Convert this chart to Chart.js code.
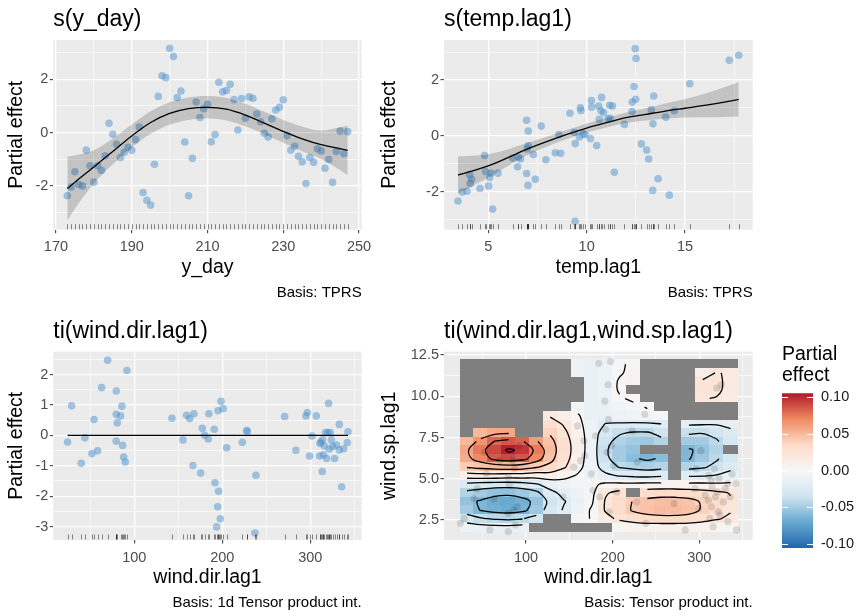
<!DOCTYPE html>
<html><head><meta charset="utf-8">
<style>
html,body{margin:0;padding:0;background:#fff;}
body{width:860px;height:616px;position:relative;overflow:hidden;}
canvas{position:absolute;}
</style>
<script src="https://cdn.jsdelivr.net/npm/chart.js@4.4.0/dist/chart.umd.min.js"></script>
</head><body>
<canvas id="c1" width="430" height="308" style="left:0;top:0"></canvas>
<canvas id="c2" width="430" height="308" style="left:375px;top:0"></canvas>
<canvas id="c3" width="430" height="308" style="left:0;top:308px"></canvas>
<canvas id="c4" width="400" height="308" style="left:375px;top:308px"></canvas>
<canvas id="c5" width="90" height="240" style="left:770px;top:330px"></canvas>
<script>
// ---------------- DATA ----------------
// s(y_day)
const yDay = [173,174,175,176,177,178,179,180,181,182,183,184,185,186,187,188,189,190,191,192,193,194,195,196,197,198,199,200,201,202,203,204,205,206,207,208,209,210,211,212,213,214,215,216,217,218,219,220,221,222,223,224,225,226,227,228,229,230,231,232,233,234,235,236,237,238,239,240,241,242,243,244,245,246,247];
const yDayEffect = [-2.36,-2.03,-1.46,-1.94,-1.99,-0.65,-1.24,-1.85,-1.24,-1.41,-0.86,0.35,-0.06,-0.43,-0.93,-0.74,-0.55,-0.66,-0.26,0.21,-2.24,-2.53,-2.71,-1.18,1.36,2.13,2.06,3.16,2.85,1.32,1.56,-0.35,-2.36,-0.96,1.15,0.57,0.90,1.06,-0.34,-0.07,1.89,1.53,1.58,1.81,1.24,0.10,1.28,0.54,1.34,1.29,0.70,0.41,-0.02,-0.16,0.52,0.85,0.95,1.23,-0.11,-0.65,-0.51,-0.88,-1.09,-1.90,-0.93,-1.11,-0.60,-0.68,-1.33,-1.00,-1.86,-0.70,0.06,-0.79,0.04];
const yDayFitX = [173,175,180,185,190,195,200,205,210,215,220,225,230,235,240,245,247];
const yDayFit = [-2.09,-1.85,-1.28,-0.70,-0.12,0.38,0.72,0.90,0.95,0.88,0.66,0.36,0.05,-0.23,-0.45,-0.60,-0.66];
const yDayUpper = [-0.89,-0.85,-0.66,-0.22,0.31,0.80,1.14,1.32,1.37,1.30,1.08,0.78,0.48,0.23,0.08,0.20,0.27];
const yDayLower = [-3.29,-2.85,-1.90,-1.18,-0.55,-0.04,0.30,0.48,0.53,0.46,0.24,-0.06,-0.38,-0.69,-0.98,-1.40,-1.59];

// s(temp.lag1)
const tempLag = [3.46,3.68,3.92,4.05,4.15,4.08,4.58,4.81,4.86,5.02,5.07,5.14,5.22,5.49,6.24,6.49,6.53,6.64,6.95,7.03,6.95,7.02,7.03,6.98,7.29,7.39,7.69,7.93,8.41,8.59,8.68,9.15,9.37,9.41,9.42,9.63,9.68,9.71,9.81,9.92,10.19,10.24,10.25,10.51,10.61,10.64,10.73,10.76,10.86,11.10,11.17,11.20,11.31,11.41,11.92,12.31,12.32,12.41,12.49,12.47,12.51,12.78,13.05,13.15,13.29,13.36,13.37,13.41,13.63,14.02,14.20,14.46,15.24,17.25,17.73];
const tempEffect = [-2.34,-2.02,-1.99,-1.40,-1.56,-1.71,-1.89,-0.71,-1.28,-1.80,-1.50,-1.34,-2.63,-1.34,-0.80,-1.11,-0.78,-0.83,0.56,0.17,-1.35,-1.78,-0.36,-0.47,-0.67,-1.56,0.35,-0.86,-0.61,0.05,-0.63,0.81,0.12,-3.07,-0.28,-0.04,1.01,0.91,0.06,0.05,-0.10,1.27,1.03,-0.35,1.07,0.59,0.90,1.38,0.83,0.61,1.10,0.63,1.07,-1.31,0.41,0.87,1.21,1.77,1.31,3.13,2.78,-0.29,-0.51,-0.83,0.93,-1.96,0.43,1.43,-1.54,0.67,-2.13,0.90,1.87,2.71,2.89];
const tempFitX = [3.46,5,6,7,8,9,10,11,12,13,14,15,16,17,17.73];
const tempFit = [-1.41,-1.08,-0.78,-0.47,-0.20,0.05,0.28,0.47,0.65,0.77,0.89,0.99,1.09,1.21,1.31];
const tempUpper = [-0.74,-0.66,-0.48,-0.25,-0.02,0.21,0.44,0.64,0.84,0.99,1.16,1.32,1.51,1.74,1.93];
const tempLower = [-2.08,-1.50,-1.08,-0.69,-0.38,-0.11,0.12,0.30,0.46,0.55,0.62,0.66,0.67,0.68,0.69];

// ti(wind.dir.lag1)
const windDir = [24.2,28.8,39.8,43.9,51.9,54.2,58.3,62.9,69.7,79.5,79.5,79.5,80.7,84.5,86.0,86.7,87.9,89.8,91.7,142.8,155.3,159.5,162.9,166.7,167.8,175.4,177.3,180.0,184.1,184.8,190.9,191.7,193.6,194.7,195.1,195.8,197.7,198.5,201.1,204.9,222.7,227.7,228.4,237.1,238.3,270.8,283.7,295.1,296.6,299.2,301.9,306.8,310.6,311.0,312.1,313.6,314.0,314.8,315.9,317.4,318.6,320.1,320.8,321.6,322.7,323.9,325.4,327.7,329.9,333.0,333.0,335.6,337.9,342.0,342.8];
const windEffect = [-0.22,0.97,-0.92,-0.08,-0.60,0.52,-0.51,1.57,2.47,1.46,0.69,-0.19,0.41,0.64,0.96,-0.33,-0.71,-0.88,2.13,0.56,-0.15,0.66,0.55,-0.99,0.71,-1.24,0.23,0.00,-0.12,0.71,0.20,-1.56,-3.01,-2.35,0.81,-1.84,-2.74,1.12,0.88,-0.41,-0.23,0.16,0.13,-3.21,-1.31,0.62,-0.49,0.64,0.75,-0.68,-0.02,0.64,-0.68,-0.27,-0.22,-1.19,-0.15,-0.64,-0.35,0.09,-0.76,0.09,1.05,-0.45,0.09,-0.15,-0.37,-0.76,-0.32,0.36,-0.48,-1.69,-0.44,-0.24,0.12];
const windFitX = [24.2,342.8];
const windFit = [0,0];

// ti(wind.dir.lag1, wind.sp.lag1)
const windSp = [2.3,2.6,3.8,4.4,6.6,5.3,1.9,3.8,6.1,1.8,5.1,2.9,4.6,6.1,3.1,5.6,2.2,3.3,7.0,3.9,5.7,8.2,6.1,7.3,6.4,5.3,4.3,7.6,12.0,3.9,9.7,8.0,6.6,10.7,8.6,3.0,12.1,7.0,5.8,4.2,7.9,3.6,6.0,8.9,2.3,3.5,1.9,4.4,5.6,3.2,6.7,4.0,3.7,5.2,2.6,4.9,3.3,4.5,2.1,5.6,3.9,10.5,4.2,3.0,5.0,2.8,10.7,3.6,4.4,4.7,2.4,3.9,5.3,4.7,1.9];
const gridDir = [32,48,64,80,96,112,128,144,160,176,192,208,224,240,256,272,288,304,320,336];
const gridSp = [11.94,11.42,10.90,10.38,9.86,9.34,8.82,8.30,7.78,7.26,6.74,6.22,5.70,5.18,4.66,4.14,3.62,3.10,2.58,2.06];
const N = null;
const gridEstimate = [
 [N,N,N,N,N,N,N,N,-0.010,-0.012,-0.010,-0.003,0.004,N,N,N,N,N,N,N],
 [N,N,N,N,N,N,N,N,-0.010,-0.012,-0.010,-0.002,0.005,N,N,N,N,0.012,0.021,0.018],
 [N,N,N,N,N,N,N,N,N,-0.012,-0.010,0.002,0.006,N,N,N,N,0.022,0.023,0.016],
 [N,N,N,N,N,N,N,N,N,-0.012,-0.010,0.002,N,N,N,N,N,0.024,0.023,0.015],
 [N,N,N,N,N,N,N,N,N,-0.012,-0.010,-0.002,0.003,N,N,N,N,0.021,0.019,0.012],
 [N,N,N,N,N,N,N,N,-0.006,-0.012,-0.011,-0.006,-0.004,0.001,N,N,N,N,N,N],
 [N,N,N,N,N,N,0.018,0.010,0.002,-0.012,-0.012,-0.010,-0.008,-0.005,-0.002,N,N,N,N,N],
 [N,N,N,N,N,N,0.030,0.018,0.005,-0.010,-0.021,-0.022,-0.023,-0.023,-0.021,N,-0.018,-0.019,-0.019,-0.015],
 [N,0.050,0.056,0.058,N,N,0.038,0.024,0.008,-0.010,-0.030,-0.038,-0.042,-0.042,-0.035,N,-0.038,-0.039,-0.035,-0.025],
 [0.050,0.065,0.081,0.086,0.082,0.062,0.045,0.028,0.010,-0.010,-0.035,-0.046,-0.050,-0.052,-0.045,N,-0.050,-0.050,-0.042,-0.030],
 [0.058,0.075,0.090,0.103,0.096,0.075,0.048,0.030,0.010,-0.010,-0.038,-0.050,-0.055,N,N,N,-0.062,-0.055,-0.045,N],
 [0.055,0.070,0.085,0.090,0.086,0.070,0.045,0.028,0.008,-0.010,-0.036,-0.050,-0.058,-0.063,-0.058,N,-0.061,-0.052,-0.042,-0.030],
 [0.041,0.045,0.048,0.050,0.048,0.041,0.035,0.022,0.005,-0.010,-0.030,-0.041,-0.045,-0.048,-0.045,N,-0.045,-0.042,-0.035,-0.025],
 [0.010,0.012,0.012,0.010,0.010,0.008,0.010,0.005,-0.002,-0.008,-0.015,-0.021,-0.023,-0.024,-0.022,N,-0.022,-0.021,-0.018,-0.012],
 [-0.025,-0.028,-0.030,-0.030,-0.028,-0.022,-0.012,-0.008,-0.005,-0.003,0.003,0.004,0.004,0.005,0.005,0.005,0.004,0.004,0.003,0.003],
 [-0.045,-0.050,-0.055,-0.056,-0.052,-0.045,-0.025,-0.015,-0.010,-0.004,0.018,0.026,N,0.031,0.033,0.033,0.031,0.028,0.024,0.019],
 [-0.055,-0.062,-0.068,-0.070,-0.066,-0.055,-0.035,-0.021,-0.012,-0.002,0.022,0.032,0.041,0.045,0.047,0.047,0.045,0.038,0.030,0.022],
 [-0.050,-0.061,-0.066,-0.068,-0.064,-0.052,-0.030,-0.018,-0.010,0.002,0.022,0.032,0.042,0.046,0.048,0.048,0.046,0.038,0.030,0.022],
 [-0.030,-0.038,-0.042,-0.044,-0.041,-0.032,N,N,-0.005,0.001,0.014,0.024,0.030,0.034,0.035,0.035,0.033,0.028,0.022,0.016],
 [-0.010,-0.012,-0.014,-0.014,-0.012,N,N,N,N,N,N,0.004,0.006,0.008,0.008,0.008,0.008,0.006,0.004,0.002]
];
const contourLevels = [-0.06,-0.04,-0.02,0,0.02,0.04,0.06,0.08,0.10];
const fillPalette = ['#2166AC','#67A9CF','#D1E5F0','#F7F7F7','#FDDBC7','#EF8A62','#B2182B'];
const fillLimit = 0.105;
const legendBreaks = [-0.10,-0.05,0,0.05,0.10];

// tick lists
const yDayMajor = [170,190,210,230,250], yDayMinor = [180,200,220,240];
const effMajor = [-2,0,2], effMinor = [-3,-1,1,3];
const tempMajor = [5,10,15], tempMinor = [7.5,12.5,17.5];
const dirMajor = [100,200,300], dirMinor = [50,150,250,350];
const windEffMajor = [-3,-2,-1,0,1,2], windEffMinor = [-2.5,-1.5,-0.5,0.5,1.5,2.5];
const spMajor = [2.5,5,7.5,10,12.5], spMinor = [3.75,6.25,8.75,11.25];

// ---------------- HELPERS ----------------
const FONT = "'Liberation Sans', Arial, Helvetica, sans-serif";
const GREY30 = '#4D4D4D';
Chart.defaults.font.family = FONT;

const toPts = (xs, ys) => xs.map((x, i) => ({x: x, y: ys[i]}));

function ticksFromLists(major, minor) {
  return (axis) => {
    const all = major.map(v => ({value: v, major: true})).concat(minor.map(v => ({value: v, major: false})));
    all.sort((a, b) => a.value - b.value);
    axis.ticks = all;
  };
}
const gridOpts = {
  color: '#FFFFFF',
  lineWidth: c => (c.tick && c.tick.major) ? 1.3 : 0.6,
  drawTicks: true, tickLength: 3.5,
  tickColor: c => (c.tick && c.tick.major) ? '#333333' : 'rgba(0,0,0,0)',
  tickWidth: c => (c.tick && c.tick.major) ? 1 : 0
};
function axisX(min, max, major, minor, title, fmt) {
  return {
    type: 'linear', position: 'bottom', min: min, max: max, bounds: 'data',
    afterBuildTicks: ticksFromLists(major, minor),
    afterFit: s => { s.height = 53.7; },
    grid: gridOpts, border: {display: false},
    ticks: {autoSkip: false, maxRotation: 0, minRotation: 0, padding: 5.3, color: GREY30,
      font: {family: FONT, size: 14.5}, callback: (v, i, t) => t[i].major ? fmt(v) : ''},
    title: {display: true, text: title, color: '#000', font: {family: FONT, size: 19.5}, padding: {top: 0, bottom: 4.5}}
  };
}
function axisY(min, max, major, minor, title, fmt, width, titleCenter) {
  return {
    type: 'linear', position: 'left', min: min, max: max, bounds: 'data',
    afterBuildTicks: ticksFromLists(major, minor),
    afterFit: s => { s.width = width; },
    grid: gridOpts, border: {display: false},
    ticks: {autoSkip: false, padding: 1.5, color: GREY30, font: {family: FONT, size: 14.5},
      callback: (v, i, t) => t[i].major ? fmt(v) : ''},
    title: {display: true, text: title, color: '#000', font: {family: FONT, size: 19.5}, padding: {top: titleCenter - 11.7, bottom: 0}}
  };
}
const panelBg = {
  id: 'panelBg',
  beforeDraw(chart) {
    const {ctx, chartArea: a} = chart;
    ctx.save(); ctx.fillStyle = '#EBEBEB'; ctx.fillRect(a.left, a.top, a.width, a.height); ctx.restore();
  }
};
function rugPlugin(values) {
  return {
    id: 'rug',
    afterDatasetsDraw(chart) {
      const {ctx, chartArea: a, scales: {x}} = chart;
      ctx.save(); ctx.strokeStyle = 'rgba(0,0,0,0.45)'; ctx.lineWidth = 1;
      values.forEach(v => {
        const px = Math.round(x.getPixelForValue(v)) + 0.5;
        ctx.beginPath(); ctx.moveTo(px, a.bottom - 0.5); ctx.lineTo(px, a.bottom - 5.5); ctx.stroke();
      });
      ctx.restore();
    }
  };
}
const hexToRgb = h => [parseInt(h.slice(1,3),16), parseInt(h.slice(3,5),16), parseInt(h.slice(5,7),16)];
const palRgb = fillPalette.map(hexToRgb);
function colorFor(v) {
  let t = (v + fillLimit) / (2 * fillLimit);
  t = Math.max(0, Math.min(1, t));
  const s = t * (palRgb.length - 1);
  const i = Math.min(Math.floor(s), palRgb.length - 2);
  const f = s - i, a = palRgb[i], b = palRgb[i + 1];
  return 'rgb(' + Math.round(a[0] + (b[0]-a[0])*f) + ',' + Math.round(a[1] + (b[1]-a[1])*f) + ',' + Math.round(a[2] + (b[2]-a[2])*f) + ')';
}
function rasterPlugin(xs, ys, z) {
  const dx = xs[1] - xs[0], dy = ys[0] - ys[1];
  return {
    id: 'raster',
    beforeDatasetsDraw(chart) {
      const {ctx, chartArea: a, scales: {x, y}} = chart;
      ctx.save(); ctx.beginPath(); ctx.rect(a.left, a.top, a.width, a.height); ctx.clip();
      for (let j = 0; j < ys.length; j++) {
        for (let i = 0; i < xs.length; i++) {
          const v = z[j][i];
          const x0 = Math.floor(x.getPixelForValue(xs[i] - dx/2)), x1 = Math.ceil(x.getPixelForValue(xs[i] + dx/2));
          const y0 = Math.floor(y.getPixelForValue(ys[j] + dy/2)), y1 = Math.ceil(y.getPixelForValue(ys[j] - dy/2));
          ctx.fillStyle = v === null ? '#7F7F7F' : colorFor(v);
          ctx.fillRect(x0, y0, x1 - x0, y1 - y0);
        }
      }
      ctx.restore();
    }
  };
}
function contourSegments(xs, ys, z, level) {
  const segs = [];
  for (let j = 0; j < ys.length - 1; j++) {
    for (let i = 0; i < xs.length - 1; i++) {
      const v = [z[j][i], z[j][i+1], z[j+1][i+1], z[j+1][i]];
      if (v.some(a => a === null)) continue;
      const p = [[xs[i], ys[j]], [xs[i+1], ys[j]], [xs[i+1], ys[j+1]], [xs[i], ys[j+1]]];
      const pts = [];
      for (let e = 0; e < 4; e++) {
        const a = v[e], b = v[(e+1)%4];
        if ((a < level) !== (b < level)) {
          const t = (level - a) / (b - a);
          const pa = p[e], pb = p[(e+1)%4];
          pts.push({x: pa[0] + t*(pb[0]-pa[0]), y: pa[1] + t*(pb[1]-pa[1])});
        }
      }
      if (pts.length === 2) segs.push([pts[0], pts[1]]);
      else if (pts.length === 4) {
        const c = (v[0]+v[1]+v[2]+v[3]) / 4;
        if ((c < level) === (v[0] < level)) { segs.push([pts[0], pts[1]]); segs.push([pts[2], pts[3]]); }
        else { segs.push([pts[3], pts[0]]); segs.push([pts[1], pts[2]]); }
      }
    }
  }
  return segs;
}
function chainSegments(segs) {
  const key = p => p.x.toFixed(3) + ',' + p.y.toFixed(3);
  const adj = new Map();
  segs.forEach((s, idx) => { [key(s[0]), key(s[1])].forEach(k => { if (!adj.has(k)) adj.set(k, []); adj.get(k).push(idx); }); });
  const used = new Array(segs.length).fill(false);
  const lines = [];
  for (let s0 = 0; s0 < segs.length; s0++) {
    if (used[s0]) continue;
    used[s0] = true;
    const line = [segs[s0][0], segs[s0][1]];
    for (const dir of [1, -1]) {
      for (;;) {
        const end = dir === 1 ? line[line.length - 1] : line[0];
        const cands = (adj.get(key(end)) || []).filter(k => !used[k]);
        if (!cands.length) break;
        const si = cands[0]; used[si] = true;
        const s = segs[si];
        const nxt = key(s[0]) === key(end) ? s[1] : s[0];
        if (dir === 1) line.push(nxt); else line.unshift(nxt);
      }
    }
    lines.push(line);
  }
  return lines;
}

function panel(id, cfg) {
  return new Chart(document.getElementById(id), {
    type: 'scatter',
    data: {datasets: cfg.datasets},
    options: {
      responsive: false, animation: false, events: [],
      layout: {padding: {left: 0, right: cfg.W - cfg.area.right, top: 0, bottom: 0}},
      plugins: {
        legend: {display: false}, tooltip: {enabled: false},
        title: {display: true, text: cfg.title, align: 'start', fullSize: false, color: '#000',
          font: {family: FONT, size: 23, weight: 'normal'}, padding: {top: cfg.area.top - 33.8, bottom: 6.2}},
        subtitle: {display: true, text: cfg.caption, position: 'bottom', align: 'end', fullSize: false, color: '#000',
          font: {family: FONT, size: 15, weight: 'normal'}, padding: {top: 0, bottom: cfg.H - 71.7 - cfg.area.bottom}}
      },
      scales: {x: cfg.x, y: cfg.y}
    },
    plugins: [panelBg].concat(cfg.plugins || [])
  });
}
const POINT_BLUE = 'rgba(79,148,205,0.5)';
function smoothDatasets(fx, fit, up, lo, px, py) {
  const ds = [
    {type: 'line', data: toPts(fx, fit), borderColor: '#000', borderWidth: 1.3, pointRadius: 0, fill: false, cubicInterpolationMode: 'monotone', order: 0}
  ];
  if (up) {
    ds.push({type: 'line', data: toPts(fx, up), borderWidth: 0, pointRadius: 0, fill: '+1', backgroundColor: 'rgba(0,0,0,0.17)', cubicInterpolationMode: 'monotone', order: 1});
    ds.push({type: 'line', data: toPts(fx, lo), borderWidth: 0, pointRadius: 0, fill: false, cubicInterpolationMode: 'monotone', order: 1});
  }
  ds.push({data: toPts(px, py), pointRadius: 3.8, backgroundColor: POINT_BLUE, borderWidth: 0, order: 3});
  return ds;
}
const fmtInt = v => String(v);

// ---------------- PANEL 1 ----------------
panel('c1', {
  W: 430, H: 308, area: {left: 53.3, right: 361.7, top: 40, bottom: 229.7},
  title: 's(y_day)', caption: 'Basis: TPRS',
  datasets: smoothDatasets(yDayFitX, yDayFit, yDayUpper, yDayLower, yDay, yDayEffect),
  x: axisX(169.3, 250.7, yDayMajor, yDayMinor, 'y_day', fmtInt),
  y: axisY(-3.63, 3.47, effMajor, effMinor, 'Partial effect', fmtInt, 53.3, 16.5),
  plugins: [rugPlugin(yDay)]
});
// ---------------- PANEL 2 ----------------
panel('c2', {
  W: 430, H: 308, area: {left: 69, right: 377.7, top: 40, bottom: 229.7},
  title: 's(temp.lag1)', caption: 'Basis: TPRS',
  datasets: smoothDatasets(tempFitX, tempFit, tempUpper, tempLower, tempLag, tempEffect),
  x: axisX(2.75, 18.44, tempMajor, tempMinor, 'temp.lag1', fmtInt),
  y: axisY(-3.37, 3.44, effMajor, effMinor, 'Partial effect', fmtInt, 69, 15),
  plugins: [rugPlugin(tempLag)]
});
// ---------------- PANEL 3 ----------------
panel('c3', {
  W: 430, H: 308, area: {left: 53.3, right: 361.7, top: 43.7, bottom: 232},
  title: 'ti(wind.dir.lag1)', caption: 'Basis: 1d Tensor product int.',
  datasets: smoothDatasets(windFitX, windFit, null, null, windDir, windEffect),
  x: axisX(8.0, 358.4, dirMajor, dirMinor, 'wind.dir.lag1', fmtInt),
  y: axisY(-3.44, 2.75, windEffMajor, windEffMinor, 'Partial effect', fmtInt, 53.3, 16.5),
  plugins: [rugPlugin(windDir)]
});
// ---------------- PANEL 4 ----------------
const contourData = [];
contourLevels.forEach(level => {
  chainSegments(contourSegments(gridDir, gridSp, gridEstimate, level)).forEach(line => {
    line.forEach(p => contourData.push(p));
    contourData.push({x: null, y: null});
  });
});
panel('c4', {
  W: 400, H: 308, area: {left: 69, right: 377.7, top: 43.7, bottom: 232},
  title: 'ti(wind.dir.lag1,wind.sp.lag1)', caption: 'Basis: Tensor product int.',
  datasets: [
    {type: 'line', data: contourData, borderColor: '#000', borderWidth: 1.3, pointRadius: 0, fill: false, tension: 0.35, spanGaps: false, order: 0},
    {data: toPts(windDir, windSp), pointRadius: 3.6, backgroundColor: 'rgba(0,0,0,0.12)', borderWidth: 0, order: 1}
  ],
  x: axisX(5.4, 361.6, dirMajor, dirMinor, 'wind.dir.lag1', fmtInt),
  y: axisY(1.29, 12.7, spMajor, spMinor, 'wind.sp.lag1', v => v.toFixed(1), 69, 15),
  plugins: [rasterPlugin(gridDir, gridSp, gridEstimate)]
});
// ---------------- LEGEND (colour bar) ----------------
function legendGradient(c) {
  const chart = c.chart, y = chart.scales && chart.scales.y;
  if (!chart.chartArea || !y) return fillPalette[3];
  const g = chart.ctx.createLinearGradient(0, y.getPixelForValue(-fillLimit), 0, y.getPixelForValue(fillLimit));
  fillPalette.forEach((col, i) => g.addColorStop(i / (fillPalette.length - 1), col));
  return g;
}
new Chart(document.getElementById('c5'), {
  type: 'bar',
  data: {labels: [''], datasets: [{data: [[-fillLimit, fillLimit]], backgroundColor: legendGradient, borderWidth: 0, barPercentage: 1, categoryPercentage: 1}]},
  options: {
    responsive: false, animation: false, events: [],
    layout: {padding: {left: 12, right: 0, top: 0, bottom: 22}},
    plugins: {
      legend: {display: false}, tooltip: {enabled: false},
      title: {display: true, text: ['Partial', 'effect'], align: 'start', fullSize: true, color: '#000',
        font: {family: FONT, size: 19.5, weight: 'normal', lineHeight: 1.05}, padding: {top: 14.8, bottom: 7.5}}
    },
    scales: {
      x: {display: false},
      y: {position: 'right', min: -fillLimit, max: fillLimit,
        afterBuildTicks: ticksFromLists(legendBreaks, []),
        afterFit: s => { s.width = 47; },
        grid: {display: false, drawTicks: false}, border: {display: false},
        ticks: {padding: 8, color: '#1A1A1A', font: {family: FONT, size: 14.5}, callback: v => v.toFixed(2)}}
    }
  },
  plugins: [{
    id: 'barTicks',
    afterDatasetsDraw(chart) {
      const {ctx, chartArea: a, scales: {y}} = chart;
      ctx.save(); ctx.strokeStyle = '#FFFFFF'; ctx.lineWidth = 1;
      legendBreaks.forEach(b => {
        const py = Math.round(y.getPixelForValue(b)) + 0.5;
        ctx.beginPath(); ctx.moveTo(a.left, py); ctx.lineTo(a.left + 6, py);
        ctx.moveTo(a.right - 6, py); ctx.lineTo(a.right, py); ctx.stroke();
      });
      ctx.restore();
    }
  }]
});
</script>
</body></html>
